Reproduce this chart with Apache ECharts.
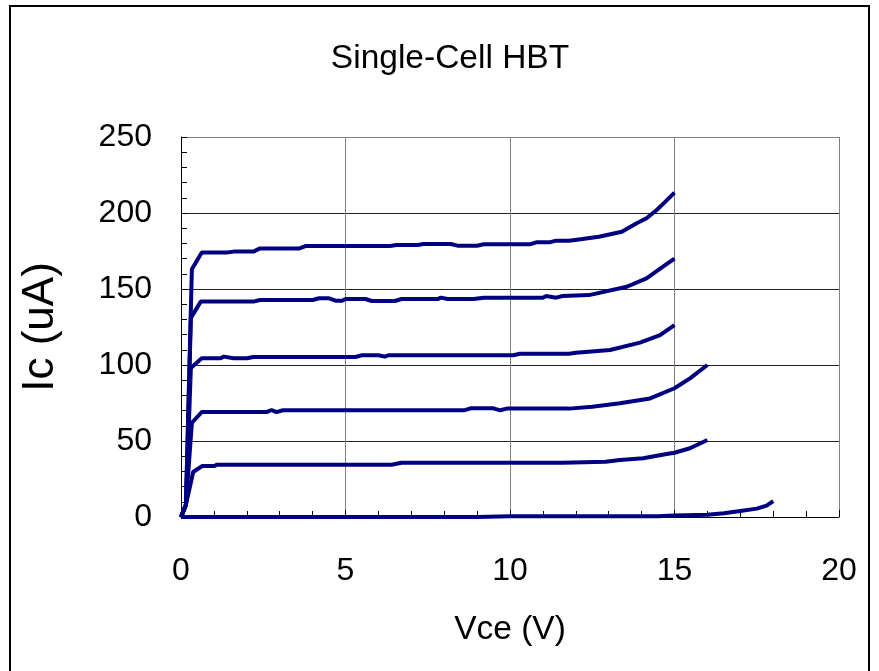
<!DOCTYPE html>
<html>
<head>
<meta charset="utf-8">
<script src="https://cdn.jsdelivr.net/npm/echarts@6/dist/echarts.min.js"></script>
<style>
html,body{margin:0;padding:0;background:#fff;}
#chart{width:879px;height:671px;}
</style>
</head>
<body>
<div id="chart"></div>
<script>
// Vce (V) / Ic (uA) pairs
const curveIb5 = [[0,0],[0.15,8],[0.33,163],[0.63,174],[1.4,174],[1.6,174.6],[2.2,174.6],[2.4,176.7],[3.6,176.7],[3.8,178.3],[6.35,178.3],[6.55,179],[7.2,179],[7.36,179.6],[8.2,179.6],[8.4,178.5],[9.0,178.5],[9.2,179.4],[10.6,179.4],[10.8,180.7],[11.2,180.7],[11.4,181.8],[11.8,181.8],[12.2,182.9],[12.7,184.4],[13.4,187.7],[13.85,193.2],[14.15,196.5],[14.46,202],[14.7,207],[15,213.4]];
const curveIb4 = [[0,0],[0.15,8],[0.3,131],[0.6,141.7],[2.2,141.7],[2.4,142.8],[4.0,142.8],[4.2,143.9],[4.5,143.9],[4.7,142.3],[4.9,142.3],[5.0,143.4],[5.6,143.4],[5.8,142.1],[6.5,142.1],[6.7,143.4],[7.8,143.4],[7.9,144.3],[8.1,143.4],[8.9,143.4],[9.2,144.3],[11.0,144.3],[11.1,145.4],[11.4,144.3],[11.6,145.4],[12.4,146],[13.55,151.5],[14.15,157],[14.65,164.7],[15,170]];
const curveIb3 = [[0,0],[0.15,8],[0.3,98],[0.63,104.4],[1.2,104.4],[1.3,105.5],[1.6,104.4],[2.0,104.4],[2.2,105.3],[5.3,105.3],[5.5,106.4],[6.0,106.4],[6.2,105.5],[6.3,106.4],[10.1,106.4],[10.3,107.4],[11.8,107.4],[12.0,108],[13.04,109.9],[13.95,114.7],[14.56,119.7],[15,126.3]];
const curveIb2 = [[0,0],[0.15,8],[0.33,62],[0.63,69],[2.6,69],[2.75,70.4],[2.9,69],[3.1,70.2],[8.6,70.2],[8.8,71.5],[9.5,71.5],[9.7,70.2],[9.9,71.3],[11.8,71.3],[12.5,72.6],[13.34,74.8],[14.26,78],[15,84.7],[15.47,91.2],[16,100]];
const curveIb1 = [[0,0],[0.15,8],[0.37,29.6],[0.64,33.5],[1.0,33.5],[1.1,34.4],[6.4,34.4],[6.7,35.7],[11.6,35.7],[12.9,36.4],[13.34,37.5],[14.05,38.6],[14.76,41.4],[15,42.3],[15.47,45.2],[16,50.7]];
const curveIb0 = [[0,0],[9,0],[10,0.5],[14.5,0.5],[15,1],[16,1.5],[16.5,2.5],[17,4],[17.5,5.5],[17.8,7.5],[18,10.5]];

const curves = [curveIb0, curveIb1, curveIb2, curveIb3, curveIb4, curveIb5];
const titleText = 'Single-Cell HBT';
const xName = 'Vce (V)';
const yName = 'Ic (uA)';

const FONT = '"Liberation Sans", Arial, sans-serif';
const chart = echarts.init(document.getElementById('chart'), null, {renderer:'canvas'});
chart.setOption({
  animation:false,
  backgroundColor:'#fff',
  title:{text:titleText,top:37,left:445,textAlign:'center',textStyle:{fontFamily:FONT,fontSize:33.5,fontWeight:'normal',color:'#000'}},
  grid:{left:181,top:137,width:658,height:380,containLabel:false},
  xAxis:{
    type:'value',min:0,max:20,interval:5,
    name:xName,nameLocation:'middle',nameGap:96,
    nameTextStyle:{fontFamily:FONT,fontSize:33.5,color:'#000'},
    axisLine:{show:true,onZero:false,lineStyle:{color:'#000',width:1}},
    axisTick:{show:true,inside:true,length:7,lineStyle:{color:'#000'}},
    minorTick:{show:true,splitNumber:5,length:6,lineStyle:{color:'#000'}},
    axisLabel:{fontFamily:FONT,fontSize:32,color:'#000',margin:38},
    splitLine:{show:true,lineStyle:{color:'#808080',width:1}}
  },
  yAxis:{
    type:'value',min:0,max:250,interval:50,
    name:yName,nameLocation:'middle',nameGap:118,nameRotate:90,
    nameTextStyle:{fontFamily:FONT,fontSize:44,color:'#000'},
    axisLine:{show:true,onZero:false,lineStyle:{color:'#000',width:1}},
    axisTick:{show:true,inside:true,length:6,lineStyle:{color:'#000'}},
    minorTick:{show:true,splitNumber:5,length:6,lineStyle:{color:'#000'}},
    axisLabel:{fontFamily:FONT,fontSize:32,color:'#000',margin:29},
    splitLine:{show:true,lineStyle:{color:['#222','#222','#222','#222','#222','#808080'],width:1}}
  },
  graphic:[
    {type:'rect',shape:{x:10,y:6,width:859,height:700},style:{fill:null,stroke:'#000',lineWidth:2},silent:true,z:-1}
  ],
  series: curves.map(c=>({type:'line',data:c,showSymbol:false,symbol:'none',smooth:false,
    lineStyle:{color:'#000080',width:4},clip:false,z:3}))
});
</script>
</body>
</html>
